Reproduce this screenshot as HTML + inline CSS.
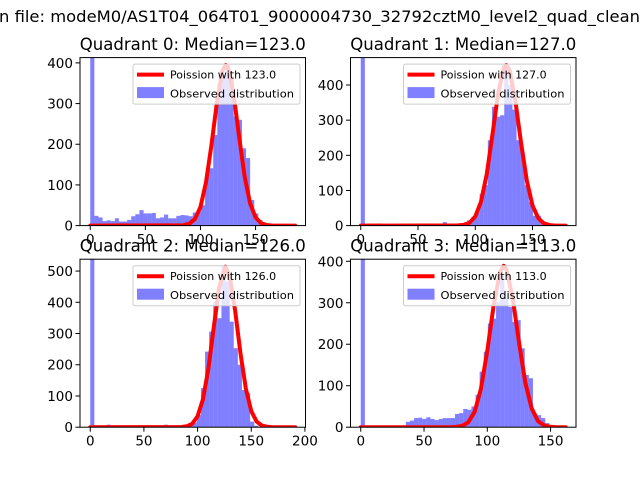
<!DOCTYPE html>
<html><head><meta charset="utf-8">
<style>
html,body{margin:0;padding:0;background:#fff;}
svg{display:block;font-family:"DejaVu Sans","Liberation Sans",sans-serif;}
</style></head>
<body>
<svg id="fig" width="640" height="480" viewBox="0 0 640 480">
<rect width="640" height="480" fill="#fff"/>
<text x="-1" y="22" font-size="16" textLength="641" lengthAdjust="spacingAndGlyphs" fill="#000">n file: modeM0/AS1T04_064T01_9000004730_32792cztM0_level2_quad_clean</text>
</svg>
<script>
// ---- data ----
const medians = [123.0, 127.0, 126.0, 113.0];
const dataMax = [186, 179, 191, 162];
const yMax = [413, 478, 538, 405];
const yTicks0 = [0, 100, 200, 300, 400];
const yTicks1 = [0, 100, 200, 300, 400];
const yTicks2 = [0, 100, 200, 300, 400, 500];
const yTicks3 = [0, 100, 200, 300, 400];
const xTicks0 = [0, 50, 100, 150];
const xTicks1 = [0, 50, 100, 150];
const xTicks2 = [0, 50, 100, 150, 200];
const xTicks3 = [0, 50, 100, 150];
const counts0 = [5000,24,20,11,13,11,18,10,10,14,23,28,38,30,30,31,18,20,27,18,18,24,26,25,23,32,35,50,126,141,223,350,370,395,366,268,260,190,166,63,30,14,7,2,1,0,0,0,0,0];
const counts1 = [5000,0,0,0,0,0,0,0,0,2,3,3,3,2,3,3,0,0,2,5,10,3,3,5,5,8,15,25,40,90,115,243,338,310,314,457,400,330,243,206,115,68,28,28,5,2,0,0,0,0];
const counts2 = [5000,0,0,0,8,0,0,0,0,0,0,0,0,0,0,0,0,0,8,0,0,0,0,3,5,15,39,125,242,306,402,349,515,466,338,253,200,119,109,18,5,1,0,0,0,0,0,0,0,0];
const counts3 = [5000,0,0,0,0,0,0,0,0,0,0,13,16,22,23,20,24,20,17,20,22,22,22,32,34,44,42,50,78,134,182,250,262,302,367,310,290,254,258,190,126,118,33,29,22,10,2,0,0,0];
const curveX0 = [0,85,90,95,100,105,110,115,120,123,125,130,135,140,145,150,155,160,165,186];
const curveY0 = [0,1,5,16,46,106,199,304,381,395,389,324,220,122,55,20,6,1.5,0,0];
const curveX1 = [0,85,90,95,100,105,110,115,120,125,127,130,135,140,145,150,155,160,165,170,179];
const curveY1 = [0,0.5,2,8,26,68,146,259,377,450,457,441,355,235,128,57,21,6,1.5,0,0];
const curveX2 = [0,85,90,95,100,105,110,115,120,126,130,135,140,145,150,155,160,165,170,191];
const curveY2 = [0,0.8,3,11,35,89,186,318,445,514,482,373,236,123,52,18,5,1.3,0,0];
const curveX3 = [0,70,75,80,85,90,95,100,105,110,113,115,120,125,130,135,140,145,150,155,162];
const curveY3 = [0,0,0.7,3,12,37,93,184,293,374,389,382,313,206,108,46,15,4,1,0,0];

const svg = document.getElementById('fig');
const NS = 'http://www.w3.org/2000/svg';
function mk(tag, attrs, parent){
  const e = document.createElementNS(NS, tag);
  for (const k in attrs) e.setAttribute(k, attrs[k]);
  (parent||svg).appendChild(e);
  return e;
}
const boxes = [[80,57.6],[350.5,57.6],[80,259.2],[350.5,259.2]];
const W = 225.5, H = 168;
const allCounts = [counts0, counts1, counts2, counts3];
const allCX = [curveX0, curveX1, curveX2, curveX3];
const allCY = [curveY0, curveY1, curveY2, curveY3];
const allXT = [xTicks0, xTicks1, xTicks2, xTicks3];
const allYT = [yTicks0, yTicks1, yTicks2, yTicks3];

for (let q = 0; q < 4; q++) {
  const [L, T] = boxes[q];
  const xmin = -0.05 * dataMax[q], xmax = 1.05 * dataMax[q];
  const sx = v => L + (v - xmin) / (xmax - xmin) * W;
  const sy = v => T + H - Math.min(v, yMax[q] * 1.05) / yMax[q] * H;
  const g = mk('g', {});
  
  
  const clipId = 'clip' + q;
  const cp = mk('clipPath', {id: clipId}, g);
  mk('rect', {x: L, y: T, width: W, height: H}, cp);
  const plot = mk('g', {'clip-path': 'url(#' + clipId + ')'}, g);
  const counts = allCounts[q];
  const bw = dataMax[q] / counts.length;
  counts.forEach((c, i) => {
    if (c <= 0) return;
    const x0 = sx(i * bw), x1 = sx((i + 1) * bw);
    const r = mk('rect', {x: x0, y: sy(c), width: x1 - x0, height: sy(0) - sy(c), fill: '#0000ff', 'fill-opacity': 0.5}, plot);
    
    
  });
  const cx = allCX[q], cy = allCY[q];
  let d = '';
  cx.forEach((v, i) => { d += (i ? 'L' : 'M') + sx(v).toFixed(2) + ',' + sy(cy[i]).toFixed(2); });
  const path = mk('path', {d: d, fill: 'none', stroke: '#ff0000', 'stroke-width': 4, 'stroke-linejoin': 'round', 'stroke-linecap': 'round'}, plot);
  
  
  const lg = mk('g', {}, g);
  
  
  const lx = L + W - 172.5, ly = T + 6.5;
  mk('rect', {x: lx, y: ly, width: 167, height: 40, rx: 2, fill: '#fff', 'fill-opacity': 0.8, stroke: '#cccccc', 'stroke-width': 1}, lg);
  mk('line', {x1: lx + 4, x2: lx + 31, y1: ly + 10.5, y2: ly + 10.5, stroke: '#ff0000', 'stroke-width': 4}, lg);
  const t1 = mk('text', {x: lx + 37, y: ly + 14.5, 'font-size': 11, fill: '#000'}, lg);
  t1.textContent = 'Poission with ' + medians[q].toFixed(1);
  mk('rect', {x: lx + 4, y: ly + 23, width: 27, height: 11, fill: '#0000ff', 'fill-opacity': 0.5}, lg);
  const t2 = mk('text', {x: lx + 37, y: ly + 33.5, 'font-size': 11, fill: '#000', textLength: 124, lengthAdjust: 'spacingAndGlyphs'}, lg);
  t2.textContent = 'Observed distribution';
  mk('rect', {x: L, y: T, width: W, height: H, fill: 'none', stroke: '#000', 'stroke-width': 1}, g);
  allXT[q].forEach(v => {
    const x = sx(v);
    mk('line', {x1: x, x2: x, y1: T + H, y2: T + H + 4.5, stroke: '#000', 'stroke-width': 1}, g);
    const t = mk('text', {x: x, y: T + H + 18.5, 'font-size': 13.5, 'text-anchor': 'middle', fill: '#000'}, g);
    
    
    t.textContent = v;
  });
  allYT[q].forEach(v => {
    const y = sy(v);
    mk('line', {x1: L - 4.5, x2: L, y1: y, y2: y, stroke: '#000', 'stroke-width': 1}, g);
    const t = mk('text', {x: L - 7, y: y + 5, 'font-size': 13.5, 'text-anchor': 'end', fill: '#000'}, g);
    
    
    t.textContent = v;
  });
  const tt = mk('text', {x: L + W / 2, y: T - 7.5, 'font-size': 16.5, 'text-anchor': 'middle', fill: '#000', textLength: 226, lengthAdjust: 'spacingAndGlyphs'}, g);
  
  
  tt.textContent = 'Quadrant ' + q + ': Median=' + medians[q].toFixed(1);
}
</script>
</body></html>
